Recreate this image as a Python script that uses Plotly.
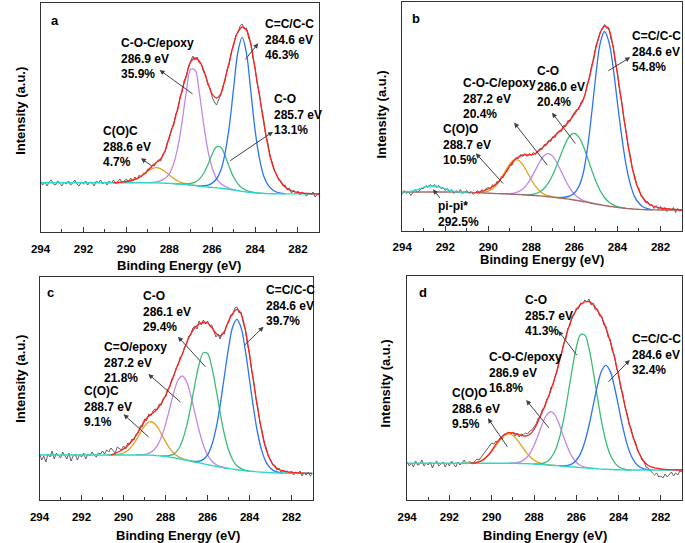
import plotly.graph_objects as go

FONT = "Liberation Sans, Arial, sans-serif"
W, H = 685, 543

# ---------------- DATA (intensity in arbitrary units) ----------------
# Common 0.2 eV grid 294.0 -> 281.0 for baselines; raw spectra on a 0.1 eV grid 294.0 -> 281.0
a_base = [49.3, 49.3, 49.3, 49.3, 49.3, 49.3, 49.3, 49.3, 49.3, 49.3,
          49.3, 49.3, 49.3, 49.3, 49.3, 49.3, 49.3, 49.3, 49.3, 49.3,
          49.3, 49.3, 49.3, 49.3, 49.3, 49.3,
          49.2, 49.1, 49.0, 48.8, 48.6, 48.4, 48.1, 47.8, 47.4, 47.0,
          46.5, 46.0, 45.5, 45.0, 44.6, 44.2, 43.8, 43.3, 42.7, 42.0,
          41.3, 40.6, 40.0, 39.5, 39.1, 38.8, 38.6, 38.4, 38.3, 38.2,
          38.1, 38.1, 38.1, 38.1, 38.1, 38.1, 38.1, 38.1, 38.1, 38.1]
b_base = [38.5, 38.5, 38.5, 38.5, 38.5, 38.5, 38.5, 38.5, 38.5, 38.5,
          38.5, 38.5, 38.5, 38.5, 38.4, 38.2, 38.0, 37.85,
          37.7, 37.5, 37.3, 37.1, 36.9, 36.8, 36.6, 36.4, 36.2, 36.0,
          35.7, 35.5, 35.2, 34.9, 34.6, 34.2, 33.8, 33.4, 32.9, 32.4,
          31.8, 31.2, 30.5, 29.8, 29.0, 28.2, 27.3, 26.5, 25.7, 25.0,
          24.3, 23.7, 23.1, 22.6, 22.1, 21.7, 21.4, 21.1, 20.9, 20.8,
          20.7, 20.6, 20.5, 20.5, 20.5, 20.5, 20.5, 20.5]
c_base = [45.0, 45.0, 45.0, 45.0, 45.0, 45.0, 45.0, 45.0, 45.0, 45.0,
          45.0, 45.0, 45.0, 45.0, 45.0, 45.0, 45.0, 45.0, 45.0, 45.0,
          45.0, 45.0, 45.0, 45.0, 45.0, 45.0,
          44.9, 44.7, 44.4, 44.0, 43.5, 42.9, 42.2, 41.4, 40.6, 39.8,
          38.9, 38.0, 37.1, 36.2, 35.3, 34.5, 33.7, 32.9, 32.2, 31.5,
          30.9, 30.3, 29.8, 29.3, 28.9, 28.5, 28.1, 27.8, 27.5, 27.3,
          27.1, 27.0, 26.9, 26.8, 26.8, 26.7, 26.7, 26.7, 26.7, 26.7]
d_base = [36.7, 36.7, 36.7, 36.7, 36.7, 36.7, 36.7, 36.7, 36.7, 36.7,
          36.7, 36.7, 36.7, 36.7, 36.7, 36.7, 36.7, 36.7, 36.7, 36.7,
          36.7, 36.7, 36.7, 36.7, 36.7, 36.7,
          36.6, 36.5, 36.4, 36.2, 36.0, 35.7, 35.4, 35.1, 34.8, 34.5,
          34.2, 33.8, 33.5, 33.1, 32.8, 32.4, 32.1, 31.8, 31.5, 31.2,
          30.9, 30.7, 30.5, 30.3, 30.2, 30.1, 30.0, 30.0, 30.0, 30.0,
          30.0, 30.0, 30.0, 30.0, 30.0, 30.0, 30.0, 30.0, 30.0, 30.0]

# fitted components: height above baseline, 0.2 eV steps from the given start energy
a_cc_start, a_cc = 286.6, [0, 0.8, 1.8, 4.3, 8.8, 17.7, 35.4, 63.1, 101.6, 138.6, 154, 138.6, 101.6, 63.1, 35.4, 17.7, 8.8, 4.3, 1.8, 0.8, 0]
a_co_start, a_co = 287.8, [0, 0.1, 0.34, 0.8, 1.7, 3.4, 6.9, 13.0, 22.3, 33.2, 41.0, 41.0, 33.2, 22.3, 13.0, 6.9, 3.4, 1.7, 0.8, 0.34, 0.1, 0]
a_coc_start, a_coc = 289.0, [0, 0.4, 1.0, 2.3, 4.7, 9.5, 19.6, 36.7, 62.8, 93.6, 115.5, 115.5, 93.6, 62.8, 36.7, 19.6, 9.5, 4.7, 2.3, 1.0, 0.4, 0]
a_coo_start, a_coo = 290.6, [0, 0.1, 0.2, 0.6, 1.4, 2.9, 5.3, 8.4, 11.7, 14.2, 15.2, 14.2, 11.7, 8.4, 5.3, 2.9, 1.4, 0.6, 0.2, 0.1, 0]

b_cc_start, b_cc = 286.8, [0, 0.7, 1.7, 3.5, 7.0, 13.9, 27.5, 53.2, 89.4, 129.5, 161.6, 174, 164.4, 139.2, 104.4, 71.3, 43.5, 24.4, 12.2, 6.1, 2.6, 1.0, 0]
b_co_start, b_co = 288.4, [0, 0.3, 0.9, 2.0, 4.2, 8.0, 14.1, 22.6, 33.4, 45.2, 56.1, 63.9, 66.7, 63.9, 56.1, 45.2, 33.4, 22.6, 14.1, 8.0, 4.2, 2.0, 0.9, 0.3, 0]
b_coc_start, b_coc = 289.4, [0, 0.2, 0.5, 1.2, 2.8, 5.8, 10.7, 17.7, 26.1, 34.4, 40.7, 43, 40.7, 34.4, 26.1, 17.7, 10.7, 5.8, 2.8, 1.2, 0.5, 0.2, 0]
b_coo_start, b_coo = 290.8, [0, 0.1, 0.3, 0.8, 2.1, 4.7, 9.2, 15.6, 23.1, 30.2, 34.4, 34.4, 30.2, 23.1, 15.6, 9.2, 4.7, 2.1, 0.8, 0.3, 0.1, 0]
b_pi_start, b_pi = 294.0, [0, 0.1, 0.5, 1.5, 3.0, 4.6, 5.7, 6.0, 5.7, 4.6, 3.0, 1.5, 0.5, 0.1, 0, 0]

c_cc_start, c_cc = 286.8, [0, 0.6, 1.7, 4.4, 9.9, 20.3, 37.4, 61.8, 91.3, 120.3, 142.3, 150.4, 142.3, 120.3, 91.3, 61.8, 37.4, 20.3, 9.9, 4.4, 1.7, 0.6, 0]
c_co_start, c_co = 288.2, [0, 0.6, 1.6, 3.9, 9.1, 18.7, 33.8, 54.5, 77.8, 98.7, 111.1, 111.1, 98.7, 77.8, 54.5, 33.8, 18.7, 9.1, 3.9, 1.6, 0.6, 0]
c_coc_start, c_coc = 289.4, [0, 0.3, 0.7, 1.8, 4.5, 9.8, 18.8, 32.2, 48.9, 65.7, 78.6, 83.4, 78.6, 65.7, 48.9, 32.2, 18.8, 9.8, 4.5, 1.8, 0.7, 0.3, 0]
c_coo_start, c_coo = 290.8, [0, 0.1, 0.3, 0.8, 2.0, 4.5, 8.8, 14.9, 22.1, 28.9, 33.0, 33.0, 28.9, 22.1, 14.9, 8.8, 4.5, 2.0, 0.8, 0.3, 0.1, 0]

d_cc_start, d_cc = 286.8, [0, 0.4, 1.1, 3.0, 6.9, 14.0, 25.9, 42.7, 63.1, 83.2, 98.4, 104, 98.4, 83.2, 63.1, 42.7, 25.9, 14.0, 6.9, 3.0, 1.1, 0.4, 0]
d_co_start, d_co = 288.0, [0, 0.4, 1.2, 3.1, 7.3, 14.9, 27.8, 46.9, 71.2, 97.1, 119.7, 132.8, 132.8, 119.7, 97.1, 71.2, 46.9, 27.8, 14.9, 7.3, 3.1, 1.2, 0.4, 0]
d_coc_start, d_coc = 289.2, [0, 0.3, 0.8, 2.1, 5.0, 10.2, 18.6, 29.5, 41.1, 50.1, 53.5, 50.1, 41.1, 29.5, 18.6, 10.2, 5.0, 2.1, 0.8, 0.3, 0]
d_coo_start, d_coo = 291.4, [0, 0.1, 0.3, 0.9, 1.9, 4.0, 7.3, 12.1, 17.8, 23.5, 27.8, 29.4, 27.8, 23.5, 17.8, 12.1, 7.3, 4.0, 1.9, 0.9, 0.3, 0.1, 0]

# fitted envelopes (absolute), 0.2 eV steps from start energy
a_env_start, a_env = 290.6, [49.4, 49.5, 50.0, 50.5, 51.5, 52.8, 54.5, 57.5, 61.5, 66, 69.5, 73, 81, 95, 108, 124, 142, 157, 170, 174,
                             171, 162, 149, 138, 134, 138, 153, 170, 188, 200, 205, 202, 188, 163, 137, 110, 86, 68, 57, 50,
                             45, 42, 40.5, 39.5, 39, 38.5, 38.3, 38.2, 38]
b_env_start, b_env = 290.6, [37.9, 38.6, 40.0, 41.5, 44.0, 47.0, 52.0, 57.5, 64.5, 70.0, 73.5, 75.5, 75.5, 75.8, 77.2, 80.5, 84.5,
                             88.8, 93.0, 97.0, 101.0, 105.5, 110.5, 116.5, 122.5, 130.0, 145.0, 163.0, 183.0, 197.5, 204.5,
                             201.0, 183.0, 156.0, 127.0, 98.0, 72.0, 52.5, 40.0, 32.0, 27.5, 25.0, 23.5, 22.5, 22.0, 21.6,
                             21.2, 20.8, 20.5]
c_env_start, c_env = 290.6, [45.2, 46.7, 48.5, 51, 54.5, 59, 64.5, 72, 79, 84, 87, 91, 96.7, 104.5, 114, 125, 136, 146, 157, 166,
                             172.5, 176, 177.5, 177, 172.5, 166.7, 164, 168.5, 179, 186.5, 190.7, 186, 170, 145, 117, 90, 67,
                             50, 39.5, 33.5, 30.5, 29, 28.2, 27.7, 27.3, 27, 26.8, 26.7, 26.7]
d_env_start, d_env = 291.0, [36.8, 37.0, 38.0, 40.0, 44.0, 49.0, 56.0, 61.5, 65.5, 67.3, 67.0, 65.8, 64.5, 64.0, 65.5, 70.5, 79.0,
                             88.5, 99.0, 110.0, 123.0, 138.5, 155.0, 170.0, 182.0, 190.0, 195.5, 198.0, 198.3, 195.5, 189.5,
                             182.5, 172.0, 159.0, 143.3, 124.0, 104.0, 85.0, 69.0, 56.0, 45.5, 38.5, 34.5, 32.8, 31.8, 31.0,
                             30.6, 30.3, 30.1, 30.0, 30.0]

# raw spectra, 0.1 eV steps 294.0 -> 281.0
a_raw = [51, 47, 50, 46, 50, 52, 48, 47, 51, 49,
         46, 50, 48, 51, 47, 49, 52, 48, 46, 50,
         48, 51, 47, 50, 49, 46, 51, 49, 52, 48,
         50, 47, 51, 49, 52, 48, 50, 53, 49, 51,
         53, 50, 54, 51, 55, 53, 57, 55, 59, 58,
         63, 62, 67, 66, 70, 72, 71, 78, 80, 89,
         93, 103, 106, 118, 122, 135, 140, 152, 155, 166,
         171, 176, 172, 175, 169, 168, 160, 157, 147, 144,
         135, 130, 127, 133, 137, 146, 151, 163, 168, 181,
         186, 197, 199, 206, 208, 203, 204, 194, 189, 174,
         165, 148, 139, 124, 113, 97, 89, 75, 70, 61,
         58, 52, 51, 46, 47, 42, 44, 39, 42, 38,
         41, 37, 40, 38, 36, 39, 37, 40, 35, 38,
         37]
b_raw = [36, 40, 37, 39, 35, 38, 41, 38, 40, 42,
         42, 45, 43, 46, 44, 46, 43, 45, 42, 43,
         40, 42, 39, 41, 37, 40, 38, 41, 37, 39,
         40, 37, 39, 36, 38, 40, 37, 41, 39, 42,
         43, 41, 46, 44, 49, 48, 54, 53, 59, 60,
         66, 65, 71, 73, 72, 76, 74, 77, 74, 77,
         75, 78, 76, 80, 82, 81, 86, 85, 90, 89,
         94, 93, 98, 100, 99, 105, 104, 110, 109, 115,
         118, 121, 121, 128, 131, 136, 147, 152, 165, 171,
         185, 190, 199, 201, 206, 202, 203, 191, 185, 168,
         158, 140, 129, 111, 100, 84, 75, 61, 55, 45,
         42, 34, 33, 28, 29, 25, 26, 22, 25, 21,
         24, 20, 23, 19, 22, 20, 23, 18, 22, 19,
         21]
c_raw = [47, 40, 44, 38, 46, 43, 49, 41, 47, 44,
         42, 48, 45, 41, 47, 39, 44, 46, 40, 45,
         43, 47, 41, 46, 44, 48, 45, 43, 47, 46,
         49, 46, 50, 48, 52, 50, 47, 53, 51, 50,
         54, 51, 57, 56, 61, 60, 66, 67, 74, 73,
         81, 79, 86, 84, 89, 91, 90, 96, 95, 102,
         103, 111, 113, 121, 124, 132, 135, 143, 145, 153,
         156, 164, 165, 172, 174, 171, 179, 175, 180, 176,
         179, 174, 175, 168, 163, 166, 161, 167, 166, 175,
         177, 185, 185, 192, 193, 187, 188, 177, 171, 156,
         147, 129, 119, 102, 92, 77, 69, 57, 52, 43,
         41, 35, 35, 30, 32, 28, 30, 27, 29, 26,
         29, 25, 28, 26, 29, 24, 27, 25, 28, 24,
         26]
d_raw = [38, 34, 37, 33, 39, 35, 36, 40, 34, 37,
         35, 38, 32, 37, 39, 34, 36, 38, 33, 37,
         34, 39, 36, 33, 38, 35, 37, 40, 36, 38,
         38, 36, 39, 41, 40, 43, 45, 49, 52, 55,
         57, 56, 59, 58, 62, 61, 66, 65, 68, 66,
         68, 64, 67, 63, 66, 65, 67, 66, 69, 70,
         73, 76, 82, 84, 91, 92, 101, 103, 113, 115,
         124, 129, 141, 145, 157, 160, 172, 174, 184, 185,
         192, 191, 197, 196, 200, 198, 201, 195, 197, 190,
         191, 184, 184, 175, 174, 163, 161, 149, 145, 132,
         126, 112, 106, 93, 87, 75, 71, 61, 58, 49,
         46, 40, 38, 33, 32, 29, 27, 25, 27, 23,
         24, 22, 26, 23, 25, 28, 24, 27, 25, 29,
         28]

tick_vals = [294, 292, 290, 288, 286, 284, 282]
tick_text = ["294", "292", "290", "288", "286", "284", "282"]

# ---------------- STYLE ----------------
RAW = "#505050"
RED = "#ff1f1f"
BLUE = "#2a74f0"
GREEN = "#3cbc78"
PURPLE = "#c487e6"
ORANGE = "#e0a417"
CYAN = "#2fd5c8"
BROWN = "#a36b66"
AX = "#333333"


def grid(start, n, step):
    return [round(start - step * i, 2) for i in range(n)]


def base_at(base, e):
    return base[int(round((294.0 - e) / 0.2))]


fig = go.Figure()

panels = [
    dict(xa="x", ya="y", base=a_base, raw=a_raw, env=(a_env_start, a_env), basecolor=CYAN,
         comps=[(a_coo_start, a_coo, ORANGE), (a_coc_start, a_coc, PURPLE), (a_co_start, a_co, GREEN), (a_cc_start, a_cc, BLUE)],
         extra=[]),
    dict(xa="x2", ya="y2", base=b_base, raw=b_raw, env=(b_env_start, b_env), basecolor=BROWN,
         comps=[(b_coo_start, b_coo, ORANGE), (b_coc_start, b_coc, PURPLE), (b_co_start, b_co, GREEN), (b_cc_start, b_cc, BLUE)],
         extra=[(b_pi_start, b_pi, CYAN)]),
    dict(xa="x3", ya="y3", base=c_base, raw=c_raw, env=(c_env_start, c_env), basecolor=CYAN,
         comps=[(c_coo_start, c_coo, ORANGE), (c_coc_start, c_coc, PURPLE), (c_co_start, c_co, GREEN), (c_cc_start, c_cc, BLUE)],
         extra=[]),
    dict(xa="x4", ya="y4", base=d_base, raw=d_raw, env=(d_env_start, d_env), basecolor=CYAN,
         comps=[(d_coo_start, d_coo, ORANGE), (d_coc_start, d_coc, PURPLE), (d_co_start, d_co, GREEN), (d_cc_start, d_cc, BLUE)],
         extra=[]),
]

for p in panels:
    xa, ya, base = p["xa"], p["ya"], p["base"]
    # raw data
    fig.add_trace(go.Scatter(x=grid(294.0, len(p["raw"]), 0.1), y=p["raw"], mode="lines",
                             line=dict(color=RAW, width=0.9), xaxis=xa, yaxis=ya, hoverinfo="skip"))

    def comp_trace(start, vals, color, width=1.3):
        xs = grid(start, len(vals), 0.2)
        ys = [base_at(base, e) + v for e, v in zip(xs, vals)]
        fig.add_trace(go.Scatter(x=xs, y=ys, mode="lines", line=dict(color=color, width=width, shape="spline", smoothing=1.0),
                                 xaxis=xa, yaxis=ya, hoverinfo="skip"))

    for start, vals, color in p["comps"]:
        comp_trace(start, vals, color)
    # background
    fig.add_trace(go.Scatter(x=grid(294.0, len(base), 0.2), y=base, mode="lines",
                             line=dict(color=p["basecolor"], width=1.4, shape="spline"),
                             xaxis=xa, yaxis=ya, hoverinfo="skip"))
    for start, vals, color in p["extra"]:
        comp_trace(start, vals, color, 1.4)
    es, ev = p["env"]
    fig.add_trace(go.Scatter(x=grid(es, len(ev), 0.2), y=ev, mode="lines",
                             line=dict(color=RED, width=1.3, shape="spline", smoothing=1.0),
                             xaxis=xa, yaxis=ya, hoverinfo="skip"))

# ---------------- AXES ----------------
# pixel boxes: (left, right, top, bottom, ymax)
boxes = [(31, 314, 3, 232, 229), (398, 682, 2, 230.5, 228.5), (30, 307, 277, 500, 223), (403, 682, 276, 500, 224)]
layout_axes = {}
for i, (l, r, t, b, ymax) in enumerate(boxes):
    sfx = "" if i == 0 else str(i + 1)
    layout_axes["xaxis" + sfx] = dict(
        domain=[l / W, r / W], range=[294, 281], anchor="y" + sfx,
        showline=True, mirror=True, linecolor=AX, linewidth=1,
        ticks="inside", ticklen=5, tickwidth=1, tickcolor=AX,
        tickvals=tick_vals, ticktext=tick_text, ticklabelstandoff=6,
        minor=dict(dtick=1, tick0=281, ticks="inside", ticklen=3, tickwidth=1, tickcolor=AX),
        tickfont=dict(family=FONT, size=11.5, color="black", weight="bold"),
        showgrid=False, zeroline=False, fixedrange=True)
    layout_axes["yaxis" + sfx] = dict(
        domain=[1 - b / H, 1 - t / H], range=[0, ymax], anchor="x" + sfx,
        showline=True, mirror=True, linecolor=AX, linewidth=1,
        ticks="", showticklabels=False, showgrid=False, zeroline=False, fixedrange=True)

# ---------------- ANNOTATIONS ----------------
labels = {
    "": [("C-O-C/epoxy<br>286.9 eV<br>35.9%", 290.34, 173.7), ("C=C/C-C<br>284.6 eV<br>46.3%", 283.62, 192),
         ("C-O<br>285.7 eV<br>13.1%", 283.21, 117.7), ("C(O)C<br>288.6 eV<br>4.7%", 291.17, 85.3)],
    "2": [("C=C/C-C<br>284.6 eV<br>54.8%", 283.42, 178.8), ("C-O<br>286.0 eV<br>20.4%", 287.84, 144.5),
          ("C-O-C/epoxy<br>287.2 eV<br>20.4%", 291.29, 132.2), ("C(O)O<br>288.7 eV<br>10.5%", 292.2, 86.5),
          ("pi-pi*<br>292.5%", 292.41, 17.0)],
    "3": [("C=C/C-C<br>284.6 eV<br>39.7%", 283.32, 195), ("C-O<br>286.1 eV<br>29.4%", 289.17, 188.3),
          ("C=O/epoxy<br>287.2 eV<br>21.8%", 291.05, 137.7), ("C(O)C<br>288.7 eV<br>9.1%", 291.99, 93.3)],
    "4": [("C-O<br>285.7 eV<br>41.3%", 288.51, 185), ("C=C/C-C<br>284.6 eV<br>32.4%", 283.45, 145.7),
          ("C-O-C/epoxy<br>286.9 eV<br>16.8%", 290.23, 127.7), ("C(O)O<br>288.6 eV<br>9.5%", 291.97, 91.7)],
}
arrows = {
    "": [((288.45, 162), (286.84, 137)), ((283.85, 188.7), (284.51, 171)), ((283.16, 100.3), (285.23, 70.3)),
         ((289.32, 73.7), (288.76, 65.3))],
    "2": [((283.41, 173.2), (284.49, 158.8)), ((287.04, 117.8), (285.9, 85.5)), ((288.8, 107.8), (287.2, 63.8)),
          ((290.58, 77.2), (289.25, 45.5)), ((292.57, 41.2), (292.2, 31.2))],
    "3": [((283.33, 173.3), (284.31, 153.3)), ((287.41, 163.3), (286.03, 131.7)), ((288.82, 126), (287.22, 96.7)),
          ((290.0, 85.7), (288.74, 61.7))],
    "4": [((286.85, 169.3), (285.92, 143.3)), ((283.47, 140), (284.55, 116.7)), ((288.37, 100), (287.24, 70.7)),
          ((290.18, 81.7), (289.21, 51.7))],
}
ann = []
for sfx, items in labels.items():
    for txt, ex, hy in items:
        ann.append(dict(text="<b>" + txt + "</b>", x=ex, y=hy, xref="x" + sfx, yref="y" + sfx,
                        xanchor="left", yanchor="middle", align="left", showarrow=False,
                        font=dict(family=FONT, size=12, color="black")))
for sfx, items in arrows.items():
    for (hx, hy), (tx, ty) in items:
        ann.append(dict(text="", x=hx, y=hy, ax=tx, ay=ty, xref="x" + sfx, yref="y" + sfx,
                        axref="x" + sfx, ayref="y" + sfx, showarrow=True, arrowhead=2, arrowsize=1,
                        arrowwidth=1, arrowcolor="#404040"))

# panel letters and axis titles (pixel positions converted to paper fractions)
for letter, px, py in [("a", 40, 20), ("b", 406, 18), ("c", 36, 292), ("d", 413, 292)]:
    ann.append(dict(text="<b>" + letter + "</b>", x=px / W, y=1 - py / H, xref="paper", yref="paper",
                    xanchor="left", yanchor="middle", showarrow=False, font=dict(family=FONT, size=13, color="black")))
for px, py in [(172, 265), (540, 259), (170, 535), (543, 535)]:
    ann.append(dict(text="<b>Binding Energy (eV)</b>", x=px / W, y=1 - py / H, xref="paper", yref="paper",
                    xanchor="center", yanchor="middle", showarrow=False, font=dict(family=FONT, size=13, color="black")))
for px, py in [(10, 111), (377, 114), (10, 379), (381, 383)]:
    ann.append(dict(text="<b>Intensity (a.u.)</b>", x=px / W, y=1 - py / H, xref="paper", yref="paper",
                    xanchor="center", yanchor="middle", textangle=-90, showarrow=False,
                    font=dict(family=FONT, size=13, color="black")))

fig.update_layout(width=W, height=H, margin=dict(l=0, r=0, t=0, b=0), showlegend=False,
                  paper_bgcolor="white", plot_bgcolor="white", annotations=ann, **layout_axes)

fig.write_html("out.html")
